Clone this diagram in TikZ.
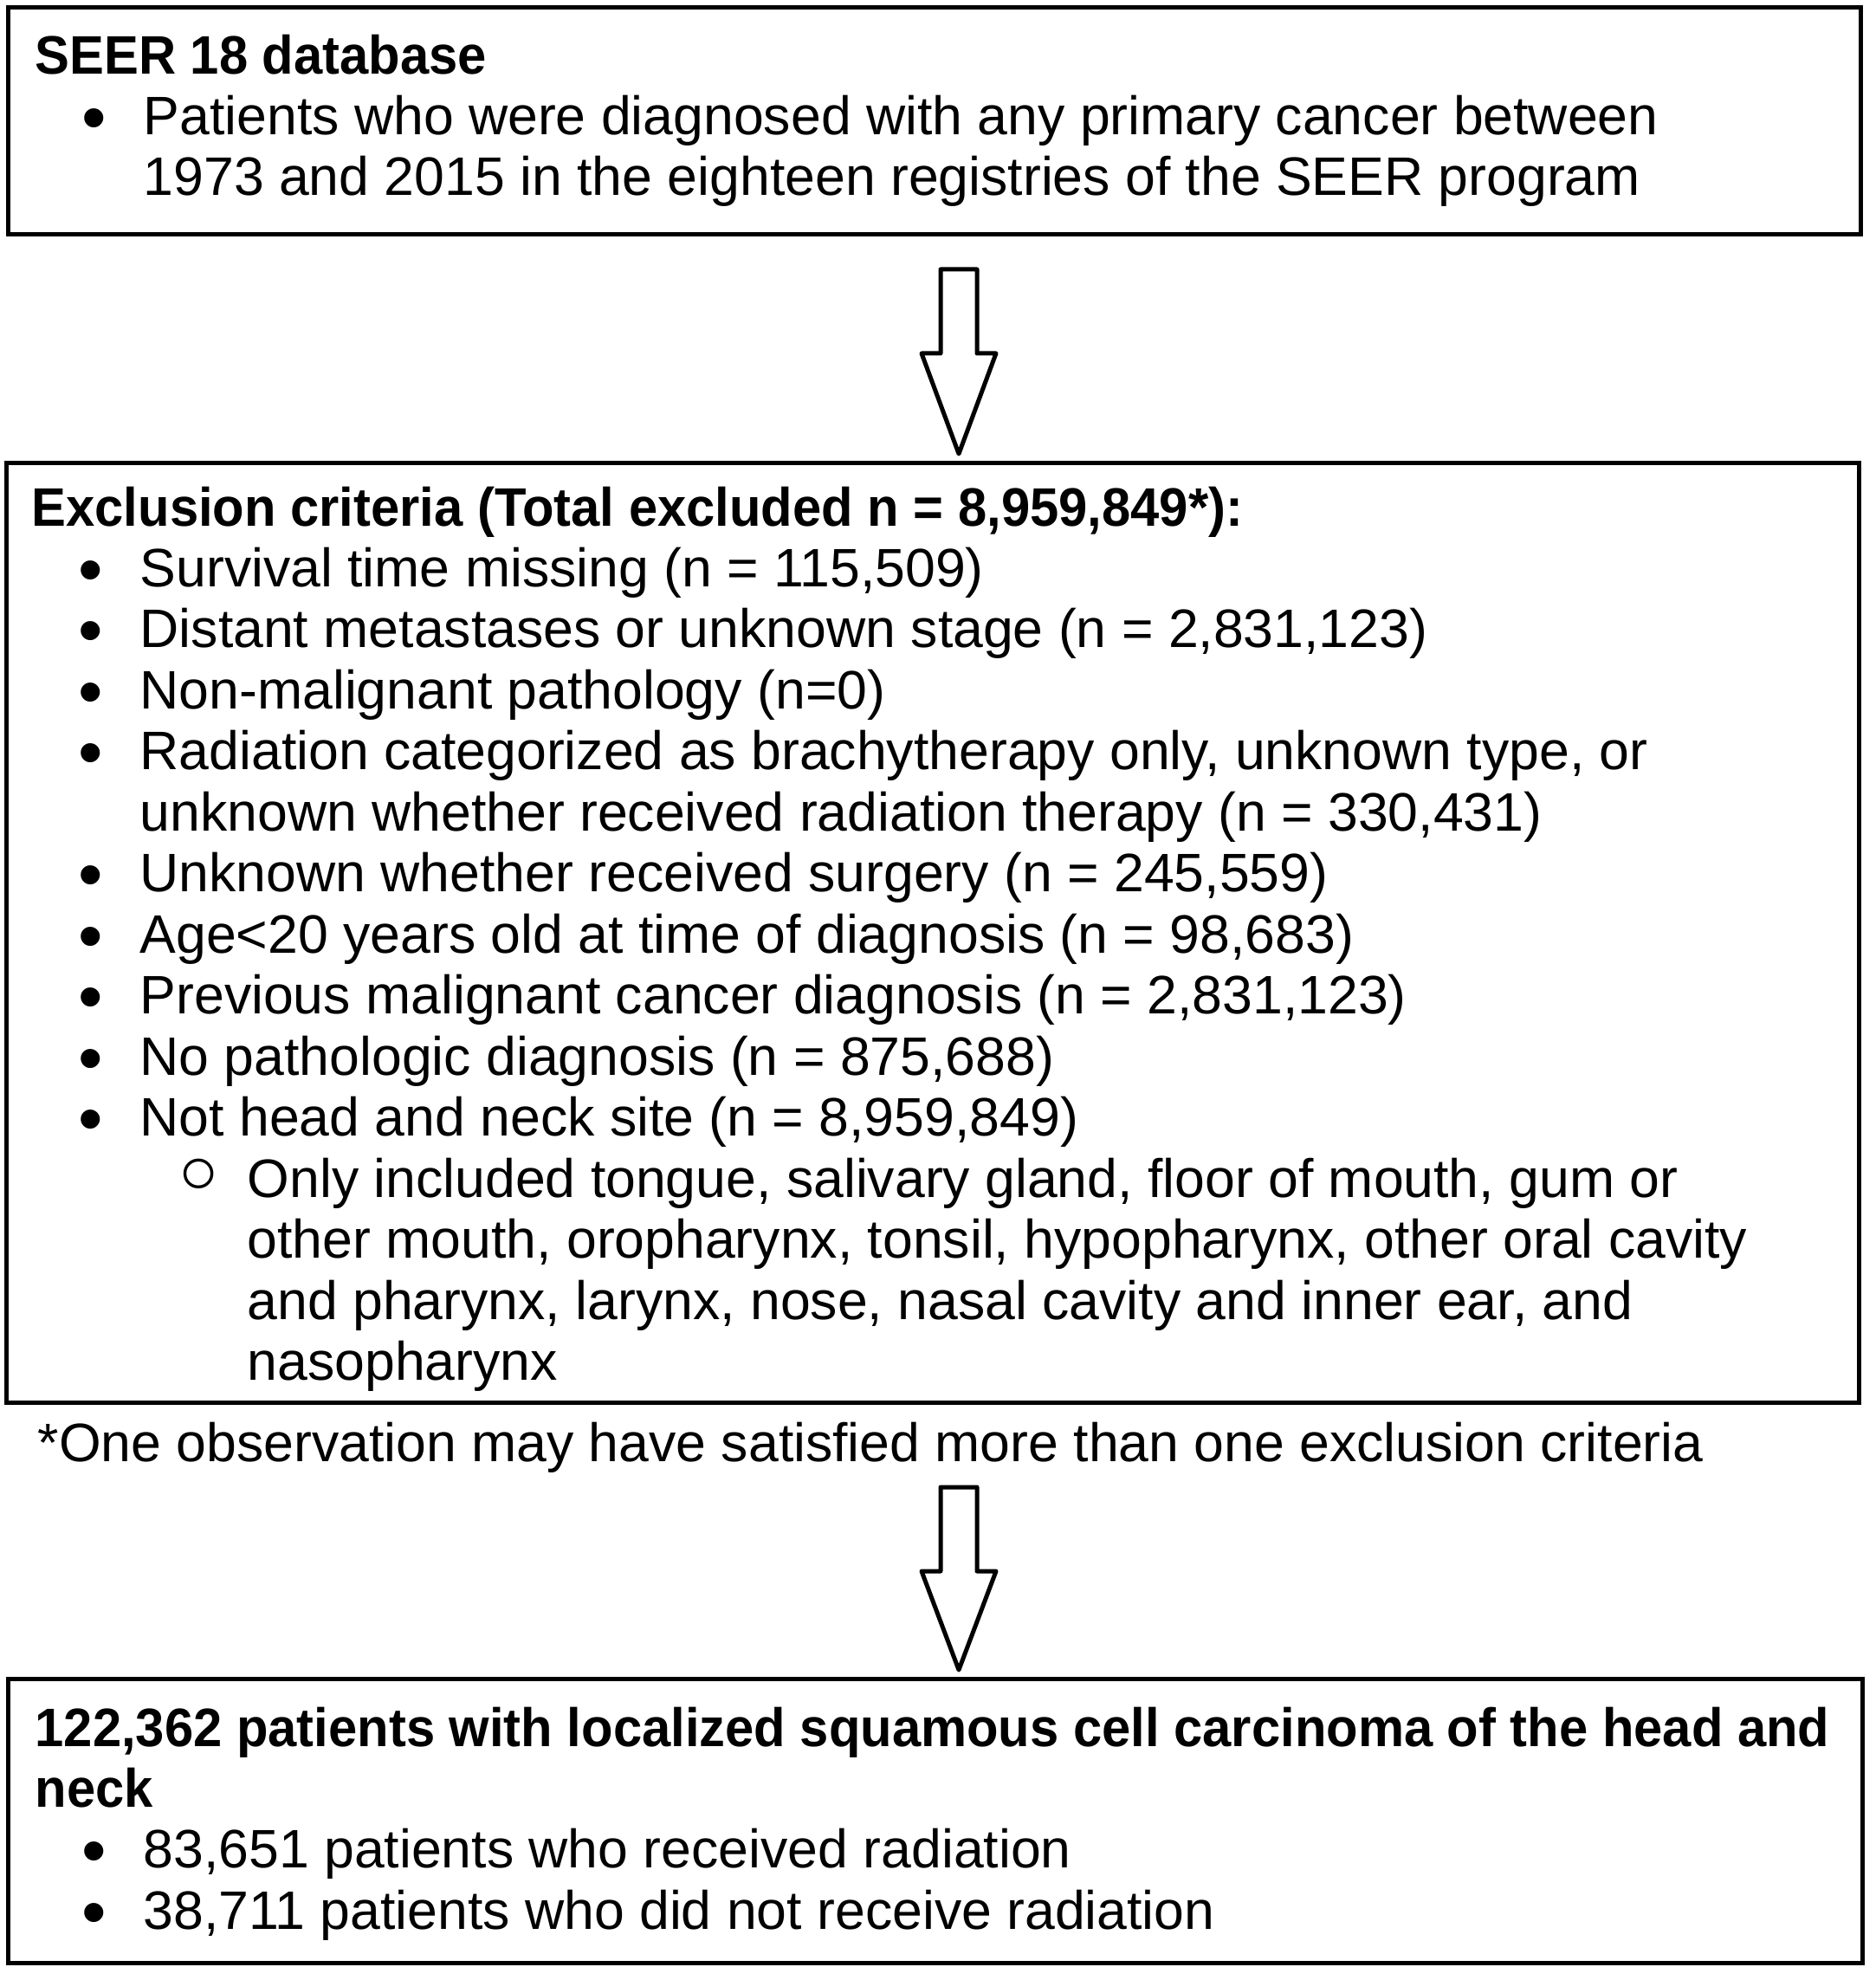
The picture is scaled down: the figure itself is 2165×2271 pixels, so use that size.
\documentclass[tikz,border=0pt]{standalone}
\usepackage{fontspec}
\setmainfont[BoldFeatures={FakeStretch=0.955}]{Liberation Sans}
\newfontfamily\symfont{DejaVu Sans}
\usetikzlibrary{calc}

% bullet lines inside the boxes
\newcommand{\bul}{\hspace*{6.8mm}\makebox[0pt]{\raisebox{-0.8mm}{\scalebox{1.3}{\textbullet}}}\hspace*{5.7mm}}
\newcommand{\cont}{\hspace*{12.5mm}}
\newcommand{\subbul}{\hspace*{19.3mm}\makebox[0pt]{\raisebox{-1.7mm}{\scalebox{1.9}{\symfont ◦}}}\hspace*{5.6mm}}
\newcommand{\subcont}{\hspace*{24.9mm}}

% hollow block arrow from a start coordinate down to a tip
\newcommand{\blockarrow}[2]{%
  \draw[hollowarrow] ($(#1)+(-21,0)$) -- ($(#1)+(21,0)$) -- ($(#1)+(21,97)$)
    -- ($(#1)+(43,97)$) -- (#2) -- ($(#1)+(-43,97)$) -- ($(#1)+(-21,97)$) -- cycle;}

\tikzset{
  box/.style={draw, line width=0.5mm, anchor=north west, inner sep=0pt, outer sep=0pt},
  list/.style={anchor=north west, align=left, inner sep=0pt,
    font=\fontsize{17.8pt}{20.05pt}\selectfont},
  hollowarrow/.style={line width=0.5mm, line join=round, fill=white},
}

\begin{document}
\begin{tikzpicture}[x=0.1mm, y=-0.1mm]
    \useasboundingbox (0,0) rectangle (2165,2271);

    % Source database
    \node[box, minimum width=213.9mm, minimum height=26.2mm] (seer) at (9,9) {};
    \node[list] (seertxt) at (40,39) {{\bfseries SEER 18 database}\\
        \bul Patients who were diagnosed with any primary cancer between\\
        \cont 1973 and 2015 in the eighteen registries of the SEER program};

    % Exclusion criteria
    \node[box, minimum width=213.9mm, minimum height=108.4mm] (excl) at (7,535) {};
    \node[list] (excltxt) at (36,561) {{\bfseries Exclusion criteria (Total excluded n = 8,959,849*):}\\
        \bul Survival time missing (n = 115,509)\\
        \bul Distant metastases or unknown stage (n = 2,831,123)\\
        \bul Non-malignant pathology (n=0)\\
        \bul Radiation categorized as brachytherapy only, unknown type, or\\
        \cont unknown whether received radiation therapy (n = 330,431)\\
        \bul Unknown whether received surgery (n = 245,559)\\
        \bul Age<20 years old at time of diagnosis (n = 98,683)\\
        \bul Previous malignant cancer diagnosis (n = 2,831,123)\\
        \bul No pathologic diagnosis (n = 875,688)\\
        \bul Not head and neck site (n = 8,959,849)\\
        \subbul Only included tongue, salivary gland, floor of mouth, gum or\\
        \subcont other mouth, oropharynx, tonsil, hypopharynx, other oral cavity\\
        \subcont and pharynx, larynx, nose, nasal cavity and inner ear, and\\
        \subcont nasopharynx};
    \node[list, anchor=base west] (note) at (43,1687)
        {*One observation may have satisfied more than one exclusion criteria};

    % Final cohort
    \node[box, minimum width=214.1mm, minimum height=32.8mm] (final) at (9,1938) {};
    \node[list] (finaltxt) at (40,1970) {{\bfseries 122,362 patients with localized squamous cell carcinoma of the head and}\\
        {\bfseries neck}\\
        \bul 83,651 patients who received radiation\\
        \bul 38,711 patients who did not receive radiation};

    % Arrows between the boxes
    \coordinate (a1) at (1107,311);
    \coordinate (a2) at (1107,1717);
    \blockarrow{a1}{$(a1 |- excl.north)+(0,-11)$}
    \blockarrow{a2}{$(a2 |- final.north)+(0,-10)$}

\end{tikzpicture}
\end{document}
